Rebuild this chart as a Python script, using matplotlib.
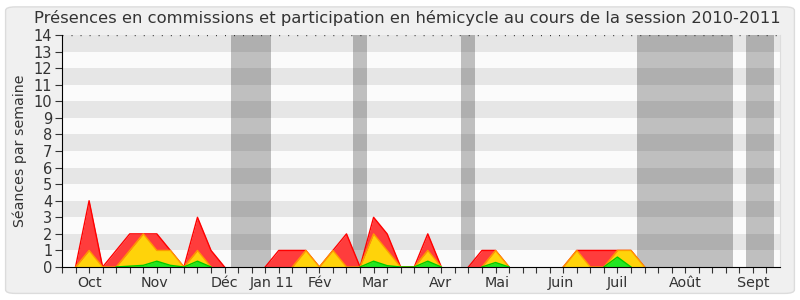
# Présences en commissions / hémicycle - session 2010-2011

import numpy as np
import matplotlib.pyplot as plt
from matplotlib.patches import FancyBboxPatch

# Weekly values (week index 0..52)
weeks = np.arange(53)
presence = [0, 0, 4, 0, 1, 2, 2, 2, 1, 0, 3, 1, 0, 0, 0, 0, 1, 1, 1, 0,
            1, 2, 0, 3, 2, 0, 0, 2, 0, 0, 0, 1, 1, 0, 0, 0, 0, 0, 1, 1,
            1, 1, 1, 0, 0, 0, 0, 0, 0, 0, 0, 0, 0]
commission = [0, 0, 1, 0, 0, 1, 2, 1, 1, 0, 1, 0, 0, 0, 0, 0, 0, 0, 1, 0,
              1, 0, 0, 2, 1, 0, 0, 1, 0, 0, 0, 0, 1, 0, 0, 0, 0, 0, 1, 0,
              0, 1, 1, 0, 0, 0, 0, 0, 0, 0, 0, 0, 0]
hemicycle = [0, 0, 0, 0, 0, 0.05, 0.1, 0.35, 0.1, 0, 0.35, 0, 0, 0, 0, 0, 0, 0, 0, 0,
             0, 0, 0, 0.35, 0.08, 0, 0, 0.35, 0, 0, 0, 0, 0.27, 0, 0, 0, 0, 0, 0, 0,
             0, 0.6, 0, 0, 0, 0, 0, 0, 0, 0, 0, 0, 0]

# Vacation periods (start, end in weeks)
vacances = [(12.45, 15.45), (21.45, 22.55), (29.45, 30.5), (42.45, 49.5), (50.5, 52.55)]

# Month labels
mois = ["Oct", "Nov", "Déc", "Jan 11", "Fév", "Mar", "Avr", "Mai", "Juin", "Juil", "Août", "Sept"]
mois_pos = [2.07, 6.86, 11.96, 15.5, 19.05, 23.1, 27.9, 32.1, 36.8, 40.96, 46.0, 51.0]


def contour(vals):
    # keep outline only where the area is not flat on zero
    v = np.array(vals, dtype=float)
    nz = v > 0
    keep = nz.copy()
    keep[1:] |= nz[:-1]
    keep[:-1] |= nz[1:]
    return np.ma.masked_where(~keep, v)


fig = plt.figure(figsize=(8, 3), dpi=100)
fig.patch.set_facecolor("white")
bg = FancyBboxPatch((0.007, 0.022), 0.986, 0.955,
                    boxstyle="round,pad=0,rounding_size=0.012",
                    transform=fig.transFigure, fc="#f0f0f0", ec="#dcdcdc", lw=1, zorder=-10)
fig.patches.append(bg)

ax = fig.add_axes([0.0775, 0.11, 0.8975, 0.773])
ax.set_facecolor("#fbfbfb")
ax.set_xlim(0, 53)
ax.set_ylim(0, 14)

# stripes
for y in range(1, 14, 2):
    ax.axhspan(y, y + 1, color="#e6e6e6", lw=0, zorder=0)
for a, b in vacances:
    ax.axvspan(a, b, color="black", alpha=0.24, lw=0, zorder=1)

series = [(presence, "#ff3c3c", "#ff0000"),
          (commission, "#ffd30a", "#ff9a00"),
          (hemicycle, "#22e622", "#00cc00")]
for i, (vals, fc, ec) in enumerate(series):
    ax.fill_between(weeks, vals, color=fc, lw=0, zorder=2 + i)
    ax.plot(weeks, contour(vals), color=ec, lw=1, zorder=2 + i)

ax.axhline(14, color="#333333", lw=1, linestyle=(0, (0.7, 5.8)), zorder=5)

ax.set_yticks(range(0, 15))
ax.tick_params(axis="y", labelsize=10.5, length=5, colors="#333333", pad=2)
ax.set_xticks(weeks)
ax.set_xticklabels([])
ax.tick_params(axis="x", length=4, colors="#333333")
for lab, p in zip(mois, mois_pos):
    ax.text(p, -0.55, lab, ha="center", va="top", fontsize=10.3, color="#333333")

ax.spines["top"].set_visible(False)
ax.spines["right"].set_color("#dddddd")
ax.spines["left"].set_color("#000000")
ax.spines["bottom"].set_color("#000000")
for s in ax.spines.values():
    s.set_zorder(6)

ax.set_ylabel("Séances par semaine", fontsize=10.2, color="#333333", labelpad=5)
fig.text(0.509, 0.965, "Présences en commissions et participation en hémicycle au cours de la session 2010-2011",
         ha="center", va="top", fontsize=11.8, color="#333333")

fig.savefig("out.png", dpi=100, facecolor=fig.get_facecolor())
